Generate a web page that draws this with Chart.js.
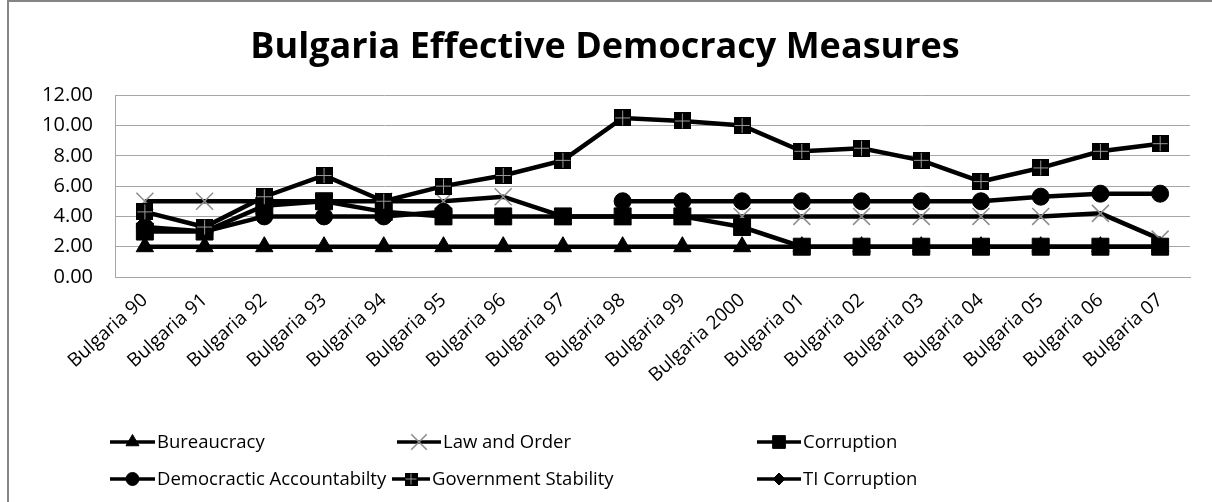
<!DOCTYPE html>
<html>
<head>
<meta charset="utf-8">
<script src="https://cdn.jsdelivr.net/npm/chart.js@4.4.1/dist/chart.umd.min.js"></script>
<style>
  html, body { margin: 0; padding: 0; background: #fff; }
  #wrap { position: relative; width: 1212px; height: 502px; }
</style>
</head>
<body>
<div id="wrap"><canvas id="chart" width="1212" height="502"></canvas></div>
<script>
// categories
const years = ['Bulgaria 90', 'Bulgaria 91', 'Bulgaria 92', 'Bulgaria 93', 'Bulgaria 94', 'Bulgaria 95',
  'Bulgaria 96', 'Bulgaria 97', 'Bulgaria 98', 'Bulgaria 99', 'Bulgaria 2000', 'Bulgaria 01',
  'Bulgaria 02', 'Bulgaria 03', 'Bulgaria 04', 'Bulgaria 05', 'Bulgaria 06', 'Bulgaria 07'];

// series values
const bureaucracy = [2, 2, 2, 2, 2, 2, 2, 2, 2, 2, 2, 2, 2, 2, 2, 2, 2, 2];
const lawAndOrder = [5, 5, 5, 5, 5, 5, 5.3, 4, 4, 4, 4, 4, 4, 4, 4, 4, 4.2, 2.5];
const corruption = [3, 3, 4.7, 5, 4.3, 4, 4, 4, 4, 4, 3.3, 2, 2, 2, 2, 2, 2, 2];
const demAccountability = [3.3, 3, 4, 4, 4, 4.3, null, null, 5, 5, 5, 5, 5, 5, 5, 5.3, 5.5, 5.5];
const govStability = [4.3, 3.3, 5.3, 6.7, 5, 6, 6.7, 7.7, 10.5, 10.3, 10, 8.3, 8.5, 7.7, 6.3, 7.2, 8.3, 8.8];
const tiCorruption = [null, null, null, null, null, null, null, null, null, null, null, null, null, null, null, null, null, null];

// y ticks
const yMin = 0, yMax = 12, yStep = 2;

// square with a grey cross, used for Government Stability
function crossSquare(size) {
  const c = document.createElement('canvas');
  c.width = size; c.height = size;
  const g = c.getContext('2d');
  g.fillStyle = '#000';
  g.fillRect(0, 0, size, size);
  g.strokeStyle = '#9a9a9a';
  g.lineWidth = 1;
  const m = Math.floor(size / 2) + 0.5;
  g.beginPath();
  g.moveTo(m, 1); g.lineTo(m, size - 1);
  g.moveTo(1, m); g.lineTo(size - 1, m);
  g.stroke();
  return c;
}

const govMarker = crossSquare(17);
const govMarkerSmall = crossSquare(13);

function series(label, data, style, radius, extra) {
  return Object.assign({
    label: label,
    data: data,
    borderColor: '#000',
    borderWidth: 4.5,
    pointStyle: style,
    pointRadius: radius,
    pointHoverRadius: radius,
    pointBackgroundColor: '#000',
    pointBorderColor: '#000',
    pointBorderWidth: 1,
    tension: 0,
    spanGaps: false,
  }, extra || {});
}

const datasets = [
  series('Bureaucracy', bureaucracy, 'triangle', 10, { order: 5 }),
  series('Law and Order', lawAndOrder, 'crossRot', 12, { order: 4, pointBorderColor: '#8c8c8c', pointBorderWidth: 1.5 }),
  series('Corruption', corruption, 'rect', 12, { order: 3 }),
  series('Democractic Accountabilty', demAccountability, 'circle', 8.5, { order: 2 }),
  series('Government Stability', govStability, govMarker, 9, { order: 1 }),
  series('TI Corruption', tiCorruption, 'rectRot', 6, { order: 0 }),
];

// legend layout: two rows of three
const legendSlots = [
  { x: 110, y: 442, w: 45 }, { x: 397, y: 442, w: 44 }, { x: 757, y: 442, w: 44 },
  { x: 110, y: 479, w: 45 }, { x: 392, y: 479, w: 38 }, { x: 757, y: 479, w: 44 },
];
const legendMarkers = [
  { style: 'triangle', r: 7.5 },
  { style: 'crossRot', r: 11 },
  { style: 'rect', r: 9 },
  { style: 'circle', r: 6.5 },
  { style: govMarkerSmall, r: 6 },
  { style: 'rectRot', r: 6 },
];

const frameAndLegend = {
  id: 'frameAndLegend',
  beforeDraw(chart) {
    const ctx = chart.ctx;
    ctx.save();
    ctx.fillStyle = '#fff';
    ctx.fillRect(0, 0, chart.width, chart.height);
    ctx.strokeStyle = '#858585';
    ctx.lineWidth = 2;
    ctx.beginPath();
    ctx.moveTo(8, chart.height);
    ctx.lineTo(8, 1);
    ctx.lineTo(chart.width, 1);
    ctx.stroke();
    ctx.restore();
  },
  afterDraw(chart) {
    const ctx = chart.ctx;
    chart.data.datasets.forEach((ds, i) => {
      const s = legendSlots[i];
      const mk = legendMarkers[i];
      ctx.save();
      ctx.strokeStyle = '#000';
      ctx.lineWidth = 3.5;
      ctx.beginPath();
      ctx.moveTo(s.x, s.y);
      ctx.lineTo(s.x + s.w, s.y);
      ctx.stroke();
      ctx.fillStyle = ds.pointBackgroundColor;
      ctx.strokeStyle = ds.pointBorderColor;
      ctx.lineWidth = ds.pointBorderWidth;
      Chart.helpers.drawPoint(ctx, { pointStyle: mk.style, radius: mk.r, borderWidth: ds.pointBorderWidth, rotation: 0 }, s.x + s.w / 2, s.y);
      ctx.fillStyle = '#000';
      ctx.font = '18.5px "Open Sans"';
      ctx.textBaseline = 'middle';
      ctx.textAlign = 'left';
      ctx.fillText(ds.label, s.x + s.w + 2, s.y + 1);
      ctx.restore();
    });
  }
};

new Chart(document.getElementById('chart'), {
  type: 'line',
  data: { labels: years, datasets: datasets },
  plugins: [frameAndLegend],
  options: {
    responsive: false,
    animation: false,
    layout: { padding: { left: 20, right: 22, top: 0, bottom: 100 } },
    plugins: {
      legend: { display: false },
      tooltip: { enabled: false },
      title: {
        display: true,
        text: 'Bulgaria Effective Democracy Measures',
        color: '#000',
        font: { family: '"Open Sans"', size: 36, weight: 'bold', lineHeight: 1.2 },
        padding: { top: 26, bottom: 26 },
      },
    },
    scales: {
      x: {
        offset: true,
        grid: { display: false, drawTicks: false },
        border: { display: true, color: '#a6a6a6', width: 1 },
        ticks: {
          autoSkip: false,
          minRotation: 42,
          maxRotation: 42,
          padding: 12,
          color: '#000',
          font: { family: '"Open Sans"', size: 19 },
        },
        afterFit(scale) { scale.height = 125; },
      },
      y: {
        min: yMin,
        max: yMax,
        grid: { color: '#a6a6a6', lineWidth: 1, drawTicks: false },
        border: { display: true, color: '#a6a6a6', width: 1 },
        ticks: {
          stepSize: yStep,
          padding: 22,
          color: '#000',
          font: { family: '"Open Sans"', size: 20 },
          callback: (v) => Number(v).toFixed(2),
        },
        afterFit(scale) { scale.width = 95; },
      },
    },
  },
});
</script>
</body>
</html>
